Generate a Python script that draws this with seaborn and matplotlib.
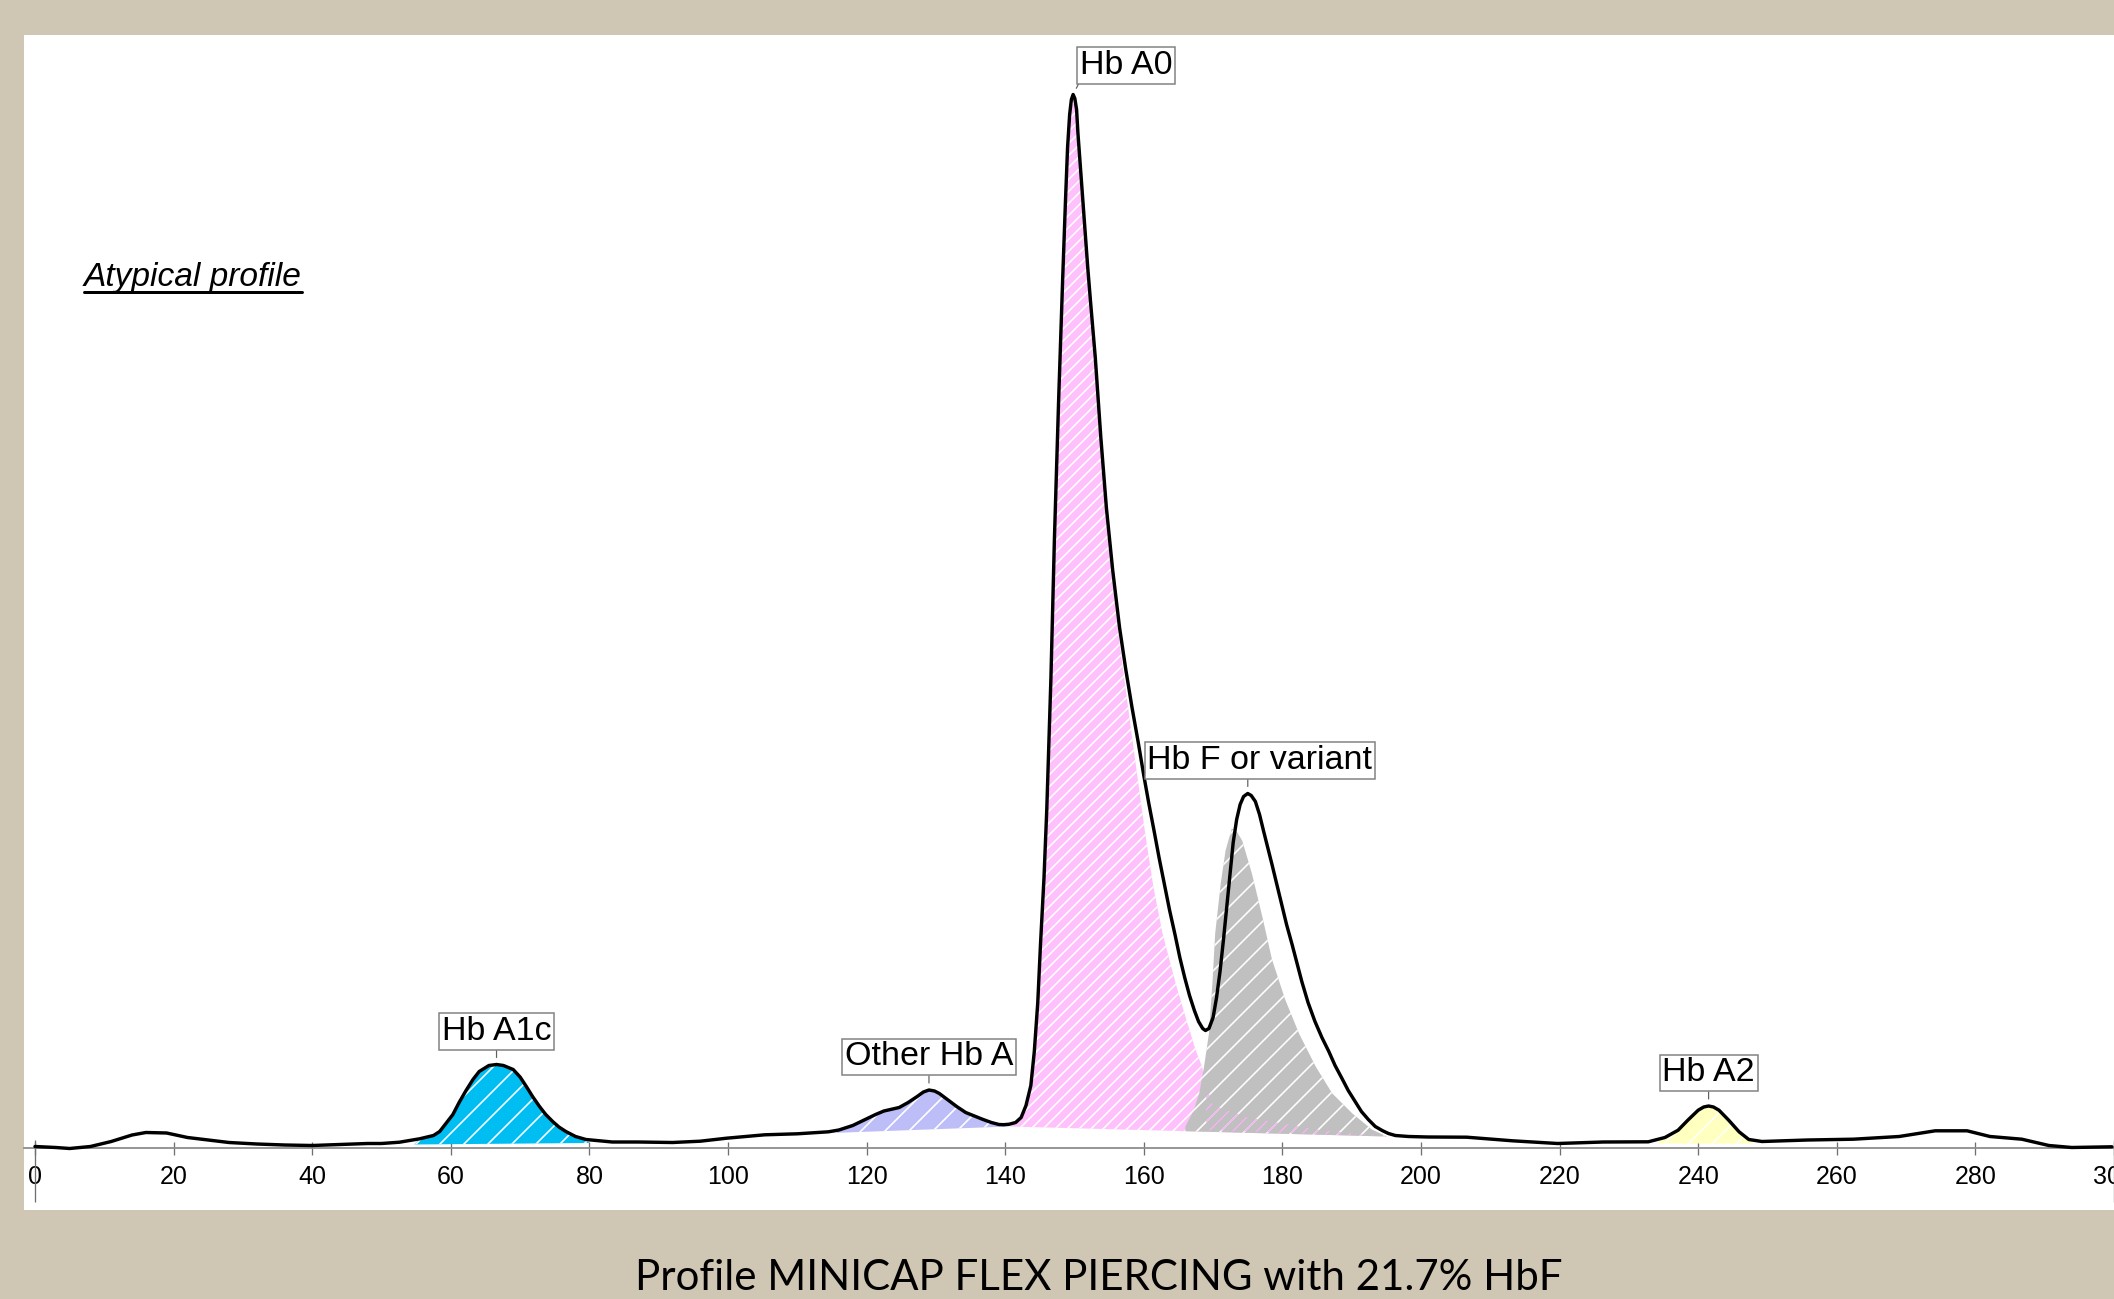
import matplotlib
matplotlib.use("Agg")
import numpy as np
import pandas as pd
import seaborn as sns
import matplotlib.pyplot as plt
from matplotlib.lines import Line2D

# ---------------------------------------------------------------------------- #
# Electropherogram trace: migration position vs. signal above baseline
trace_x = [0, 3, 5, 8, 11, 14, 16, 19, 22, 25, 28, 32, 36, 40, 44, 48, 50, 52.6,
           55.5, 57.5, 58.4, 59.3, 60.3, 61.2, 62.2, 63.2, 64.1, 65.5, 66.6, 67.6,
           69.0, 70.0, 70.9, 71.8, 72.8, 73.7, 74.7, 75.6, 76.6, 78, 79.5, 83.3,
           87, 92, 96, 99.8, 105.3, 110, 114.5, 116, 118, 119.5, 121.3, 122.5,
           124.7, 126, 127.3, 128.2, 129.0, 129.8, 130.5, 131.9, 133, 134.3, 136.7,
           138, 139.1, 139.8, 140.6, 141.5, 142.3, 143.0, 143.7, 144.2, 144.7,
           145.1, 145.6, 146.0, 146.6, 147.1, 147.7, 148.3, 148.7, 149.0, 149.3,
           149.55, 149.8, 150.05, 150.3, 150.5, 151.2, 151.9, 152.3, 153.0, 153.8,
           154.6, 155.5, 156.5, 157.4, 158.3, 159.2, 160.0, 160.7, 161.5, 162.2,
           163.0, 163.7, 164.5, 165.2, 165.9, 166.6, 167.3, 167.9, 168.5, 168.9,
           169.4, 170.0, 170.5, 171.0, 171.5, 172.0, 172.5, 172.9, 173.4, 173.9,
           174.4, 175.0, 175.5, 176.1, 176.7, 177.3, 178.5, 179.9, 180.6, 181.4,
           182.8, 183.7, 184.7, 185.7, 186.7, 187.6, 188.6, 189.5, 190.5, 191.4,
           192.4, 193.4, 194.4, 195.3, 196.3, 198.2, 201, 206.6, 213.2, 219.7,
           226.3, 232.8, 235.2, 237.1, 238.5, 240.0, 240.8, 241.5, 242.2, 243.0,
           244.4, 245.9, 247.3, 249.2, 255.8, 262.4, 269.0, 274.2, 278.8, 282.1,
           286.7, 290.6, 293.9, 299.7]
trace_y = [1, 0, -1, 1, 6, 12.5, 15, 14.5, 10, 7.5, 5, 3.5, 2.5, 2, 3, 4, 4, 5.3,
           8.7, 12, 16, 24, 33, 45, 57, 68, 76, 82, 83, 82,
           78, 70.5, 61, 51, 41, 33, 26, 20.5, 16, 11, 8, 5.5,
           5.5, 5, 6.3, 9.3, 12.7, 13.7, 15.7, 17.5, 22, 27, 33, 36.5,
           40, 45, 51, 55.5, 57.5, 56.5, 54, 46.7, 41, 35, 28.3,
           25, 23, 22.8, 23.3, 25, 30, 42, 62, 96, 145,
           204, 270, 338, 470, 608, 745, 870, 947, 1000, 1033,
           1048, 1053, 1049, 1038, 1014, 947, 881, 847, 790, 710,
           640, 578, 520, 478, 440, 405, 372, 345, 316, 290,
           262, 238, 213, 190, 170, 152, 137, 126, 119, 117,
           119, 130, 150, 176, 208, 243, 278, 305, 328, 343,
           351, 354, 352, 346, 333, 316, 283, 243, 223, 203,
           166, 145, 126, 110, 96, 82, 69, 57, 46, 36,
           28, 21, 17, 14, 12, 11, 10.5, 10.3, 6.7, 4,
           5.5, 5.7, 10, 17.3, 27.3, 37.3, 40.5, 41.5, 40.5, 37.3,
           27.3, 15.7, 8, 6, 7.5, 8.3, 11, 16.7, 16.7, 11,
           8.3, 2, 0, 0.7]

# Deconvolved Hb A0 component (falling side) and Hb F component
a0_tail_x = [150.05, 150.3, 150.5, 151.2, 151.9, 152.3, 153.0, 153.8, 154.6, 155.4,
             156.5, 157.6, 158.9, 160.2, 161.4, 162.7, 164.6, 166.0, 167.5, 168.4,
             169.0, 170.0, 175, 180, 185, 190, 195]
a0_tail_y = [1049, 1038, 1014, 947, 881, 847, 790, 710, 640, 570,
             505, 447, 380, 314, 260, 214, 164, 131, 97, 81,
             62, 42, 30, 24, 18, 14, 11]
hbf_x = [166.0, 167.2, 168.0, 168.7, 169.4, 169.9, 170.3, 171.1, 171.8, 172.7,
         173.4, 174.2, 175.6, 177.1, 178.5, 180.4, 182.4, 184.8, 187.2, 190.1,
         192.9, 195.1]
hbf_y = [21, 37, 54, 81, 114, 164, 214, 264, 297, 319,
         316, 307, 274, 231, 188, 148, 114, 81, 54, 34,
         18, 11]

# Fractions: name, start, end, baseline at start / end
fractions = ["Hb A1c", "Other Hb A", "Hb A0", "Hb F or variant", "Hb A2"]
frac_start = [54.7, 115.0, 140.6, 166.0, 234.0]
frac_end = [80.0, 140.6, 195.0, 195.1, 248.0]
base_start = [3, 14.5, 21, 16.3, 4]
base_end = [4.5, 21, 11, 11, 4]
frac_colors = ["#00BEF2", "#BDBDF7", "#FEC1FB", "#C0C0C0", "#FFFFC0"]
frac_hatch = ["/", "/", "//", "/", "/"]

ticks = list(range(0, 301, 20))
caption = "Profile MINICAP FLEX PIERCING with 21.7% HbF"
BEIGE = "#CFC6B3"
W, H = 2114, 1299

# ---------------------------------------------------------------------------- #
sns.set_theme(style="white")
plt.rcParams["font.family"] = ["Liberation Sans", "DejaVu Sans"]
plt.rcParams["hatch.linewidth"] = 1.6
plt.rcParams["hatch.color"] = "white"

df = pd.DataFrame({"x": trace_x, "y": trace_y})


def window(lo, hi):
    m = (df.x >= lo) & (df.x <= hi)
    return list(df.x[m]), list(df.y[m])


fig = plt.figure(figsize=(W / 72, H / 72), dpi=72, facecolor=BEIGE)
ax = fig.add_axes([24 / W, 1 - 1210 / H, (W - 24) / W, (1210 - 35) / H])
ax.set_facecolor("white")

# coloured fractions
for i, name in enumerate(fractions):
    lo, hi = frac_start[i], frac_end[i]
    if name == "Hb A0":
        xs, ys = window(lo, 149.8)
        xs, ys = xs + a0_tail_x, ys + a0_tail_y
    elif name == "Hb F or variant":
        xs, ys = list(hbf_x), list(hbf_y)
    else:
        xs, ys = window(lo, hi)
    px = [lo] + xs + [hi]
    py = [base_start[i]] + ys + [base_end[i]]
    ax.fill(px, py, facecolor=frac_colors[i], edgecolor="white", lw=0,
            hatch=frac_hatch[i], zorder=1 + (0.5 if name == "Hb F or variant" else 0))

# Hb A0 tail showing through the Hb F area
i0 = fractions.index("Hb A0")
ov_x = [x for x in a0_tail_x if x >= 169.0]
ov_y = [y for x, y in zip(a0_tail_x, a0_tail_y) if x >= 169.0]
ax.fill(ov_x + [frac_end[i0], ov_x[0]], ov_y + [base_end[i0], 17.5],
        facecolor="none", edgecolor="#F2B4EE", lw=0, hatch="//", zorder=1.6)

sns.lineplot(data=df, x="x", y="y", ax=ax, color="black", lw=3.4,
             estimator=None, sort=False, zorder=3)

# peak labels
label_dx = [0, 0, 7, 12, 0]
label_gap = [15, 15, 11, 15, 15]
for i, name in enumerate(fractions):
    if name == "Hb A0":
        xs, ys = window(140.6, 160)
    elif name == "Hb F or variant":
        xs, ys = window(170, 195)
    else:
        xs, ys = window(frac_start[i], frac_end[i])
    k = int(np.argmax(ys))
    pkx, pky = xs[k], ys[k]
    ha = "left" if name == "Hb A0" else "center"
    rel = (0.0, 0.0) if name == "Hb A0" else ((0.447, 0.0) if label_dx[i] else (0.5, 0.0))
    ax.annotate(name, xy=(pkx, pky), xytext=(label_dx[i], label_gap[i] + 2.6),
                textcoords="offset points", ha=ha, va="bottom", fontsize=34,
                color="black", zorder=5,
                bbox=dict(boxstyle="square,pad=0.08", fc="white", ec="#808080", lw=1.5),
                arrowprops=dict(arrowstyle="-", color="#606060", lw=1.2,
                                shrinkA=0, shrinkB=7, relpos=rel))

# axis
ax.set_xlim(-1.586, 299.70)
ax.set_ylim(-62.5, 1112.5)
for s in ["top", "left", "right"]:
    ax.spines[s].set_visible(False)
ax.spines["bottom"].set_position(("data", 0))
ax.spines["bottom"].set_color("#8C8C8C")
ax.spines["bottom"].set_linewidth(1.8)
ax.set_xticks(ticks)
ax.set_xticklabels([str(t) for t in ticks])
ax.tick_params(axis="x", direction="inout", length=13, width=1.3, color="#707070",
               labelsize=25, labelcolor="black", pad=11, bottom=True)
ax.set_yticks([])
ax.set_xlabel("")
ax.set_ylabel("")
ax.vlines([ticks[0], ticks[-1]], -54, 8, color="#707070", lw=1.3, zorder=2)

# note and caption
note = fig.text(84 / W, 1 - 286 / H, "Atypical profile", fontsize=33.5, style="italic",
                ha="left", va="baseline", color="black")
fig.text(1099 / W, 1 - 1290 / H, caption, fontsize=42, family=["Lato", "DejaVu Sans"],
         ha="center", va="baseline", color="black")

fig.canvas.draw()
bb = note.get_window_extent()
fig.add_artist(Line2D([bb.x0 / W, bb.x1 / W], [1 - 292 / H, 1 - 292 / H],
                      transform=fig.transFigure, color="black", lw=3))

fig.savefig("out.png", dpi=72, facecolor=BEIGE)
